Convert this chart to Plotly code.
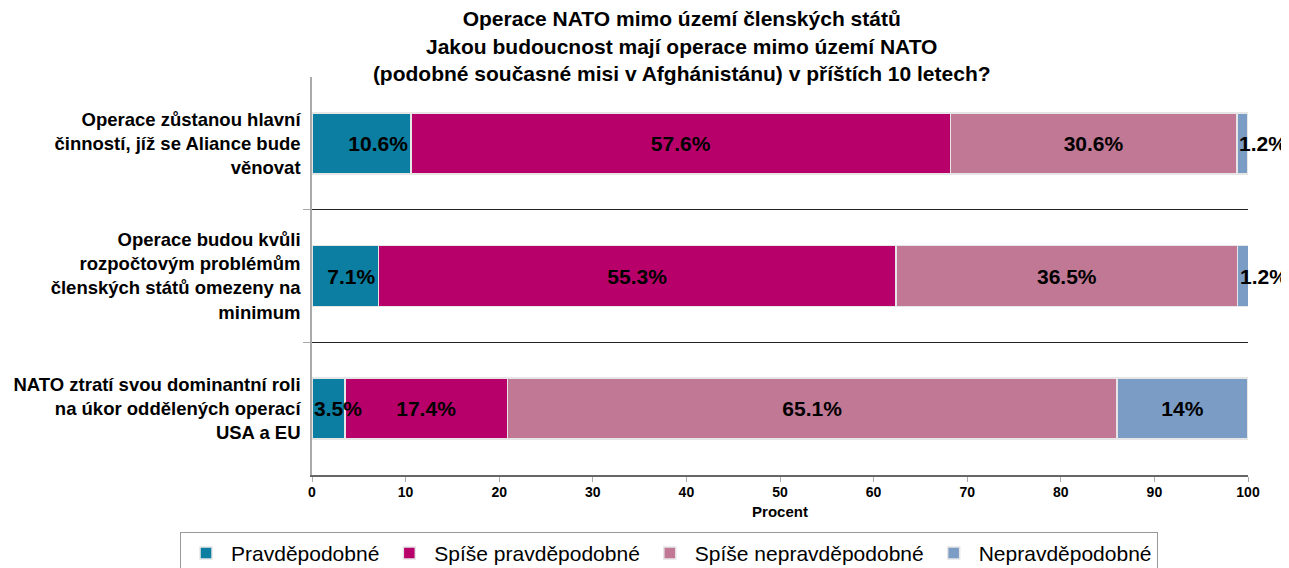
import plotly.graph_objects as go

# survey categories (top to bottom)
categories = [
    "Operace zůstanou hlavní<br>činností, jíž se Aliance bude<br>věnovat",
    "Operace budou kvůli<br>rozpočtovým problémům<br>členských států omezeny na<br>minimum",
    "NATO ztratí svou dominantní roli<br>na úkor oddělených operací<br>USA a EU",
]
series_names = ["Pravděpodobné", "Spíše pravděpodobné", "Spíše nepravděpodobné", "Nepravděpodobné"]
pravdepodobne = [10.6, 7.1, 3.5]
spise_pravdepodobne = [57.6, 55.3, 17.4]
spise_nepravdepodobne = [30.6, 36.5, 65.1]
nepravdepodobne = [1.2, 1.2, 14]
x_ticks = [0, 10, 20, 30, 40, 50, 60, 70, 80, 90, 100]

colors = ["#0b7ea1", "#b8006b", "#c07895", "#7b9cc4"]
all_values = [pravdepodobne, spise_pravdepodobne, spise_nepravdepodobne, nepravdepodobne]

ypos = [2, 1, 0]
font_family = "Liberation Sans, Arial, sans-serif"
label_font = dict(family=font_family, size=21, color="black", weight="bold")

fig = go.Figure()
starts = [0, 0, 0]
for i, (name, vals) in enumerate(zip(series_names, all_values)):
    texts = []
    for j, v in enumerate(vals):
        if v < 5:
            # narrow segment: label starts at the segment and runs past it
            texts.append("")
            fig.add_annotation(x=starts[j], y=ypos[j], text=f"{v:g}%", showarrow=False,
                               xanchor="left", xshift=0, font=label_font)
        else:
            texts.append(f"{v:g}%")
        starts[j] += v
    fig.add_trace(go.Bar(
        y=ypos, x=vals, name=name, orientation="h",
        marker=dict(color=colors[i], line=dict(color="#e6e6e6", width=1.5)),
        width=0.46,
        text=texts,
        textposition="inside",
        insidetextanchor="end" if i == 0 else "middle",
        constraintext="none",
        textangle=0,
        textfont=label_font,
    ))

fig.update_layout(
    barmode="stack",
    width=1281, height=560,
    margin=dict(l=304, r=41, t=69, b=93, autoexpand=False),
    paper_bgcolor="white", plot_bgcolor="white",
    font=dict(family=font_family, color="black"),
    title=dict(
        text="Operace NATO mimo území členských států<br>Jakou budoucnost mají operace mimo území NATO<br>(podobné současné misi v Afghánistánu) v příštích 10 letech?",
        x=0.395, xref="paper", xanchor="center", yref="container", y=0.967, yanchor="middle",
        font=dict(size=21, weight="bold", family=font_family),
    ),
    showlegend=True,
    legend=dict(
        orientation="h", x=-0.141, xanchor="left",
        y=-0.143, yanchor="top",
        bordercolor="#999999", borderwidth=1,
        font=dict(size=21, family=font_family),
        itemwidth=40,
        traceorder="normal",
    ),
)

fig.update_xaxes(
    range=[0, 100], tickvals=x_ticks,
    showgrid=False, zeroline=False,
    showline=True, linecolor="#666666", linewidth=2,
    ticks="outside", tickcolor="#aaaaaa", ticklen=5,
    tickfont=dict(size=14, weight="bold"), ticklabelstandoff=-2,
    title=dict(text="Procent", font=dict(size=15, weight="bold"), standoff=8),
)
fig.update_yaxes(
    range=[-0.5, 2.5], tickvals=ypos, ticktext=categories, automargin=False,
    showgrid=False, zeroline=False,
    showline=True, linecolor="#aaaaaa", linewidth=1.5,
    ticks="", tickfont=dict(size=18.5, weight="bold"), ticklabelstandoff=6,
    minor=dict(tickvals=[0.5, 1.5], showgrid=True, gridcolor="#222222", gridwidth=1,
               ticks="outside", ticklen=7, tickcolor="#aaaaaa"),
)

fig.write_html("out.html")
